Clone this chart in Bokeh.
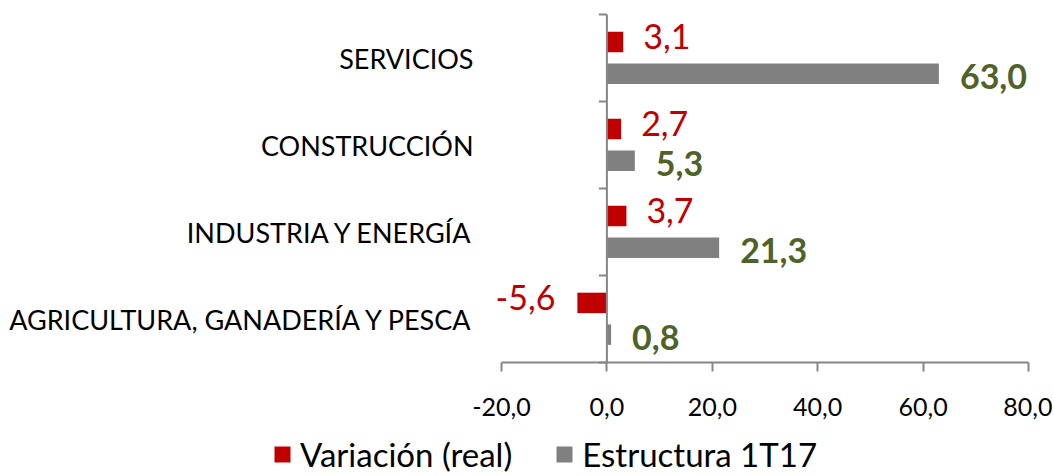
from bokeh.plotting import figure
from bokeh.models import (Range1d, FixedTicker, Legend, LegendItem,
                          ColumnDataSource)
from bokeh.core.properties import value
from bokeh.embed import file_html
from bokeh.resources import INLINE

# ---- data (bottom to top) ----
categories = ["AGRICULTURA, GANADERÍA Y PESCA", "INDUSTRIA Y ENERGÍA",
              "CONSTRUCCIÓN", "SERVICIOS"]
variacion = [-5.6, 3.7, 2.7, 3.1]
estructura = [0.8, 21.3, 5.3, 63.0]
x_ticks = [-20, 0, 20, 40, 60, 80]
series_names = ["Variación (real)", "Estructura 1T17"]

RED = "#C00000"
GRAY = "#808080"
GREEN = "#4F6228"
AXIS = "#868686"
FONT = "Lato"

n = len(categories)
centers = [i + 0.5 for i in range(n)]
boundaries = list(range(n + 1))
x_lo, x_hi = x_ticks[0], x_ticks[-1]

# ---- layout (pixels) ----
W, H = 1052, 474
PLOT_L, PLOT_R, PLOT_T, PLOT_B = 501, 1028, 14, 362   # data area in px
sx = (PLOT_R - PLOT_L) / (x_hi - x_lo)
sy = (PLOT_B - PLOT_T) / n
x_range = Range1d(x_lo - PLOT_L / sx, x_hi + (W - PLOT_R) / sx)
y_range = Range1d(-(H - PLOT_B) / sy, n + PLOT_T / sy)

p = figure(width=W, height=H, output_backend="svg", toolbar_location=None,
           x_range=x_range, y_range=y_range,
           min_border_left=0, min_border_right=0,
           min_border_top=0, min_border_bottom=0)
p.outline_line_color = None
p.xgrid.visible = False
p.ygrid.visible = False
p.background_fill_color = "white"
p.border_fill_color = "white"

# bars
red_y = [c + 0.185 for c in centers]
gray_y = [c - 0.18 for c in centers]
r_red = p.hbar(y=red_y, left=0, right=variacion, height=0.235,
               fill_color=RED, line_color=None)
r_gray = p.hbar(y=gray_y, left=0, right=estructura, height=0.235,
                fill_color=GRAY, line_color=None)

def fmt(v):
    return f"{v:.1f}".replace(".", ",")

# red labels
pos = [(v, y) for v, y in zip(variacion, red_y) if v >= 0]
neg = [(v, y) for v, y in zip(variacion, red_y) if v < 0]
src_pos = ColumnDataSource(dict(x=[a for a, _ in pos], y=[b for _, b in pos],
                                t=[fmt(a) for a, _ in pos]))
src_neg = ColumnDataSource(dict(x=[a for a, _ in neg], y=[b for _, b in neg],
                                t=[fmt(a) for a, _ in neg]))
p.text(x="x", y="y", text="t", source=src_pos, x_offset=20, y_offset=-5,
       text_align="left", text_baseline="middle", text_color=RED,
       text_font=value(FONT), text_font_size="34px")
p.text(x="x", y="y", text="t", source=src_neg, x_offset=-22, y_offset=-5,
       text_align="right", text_baseline="middle", text_color=RED,
       text_font=value(FONT), text_font_size="34px")
# green labels
src_g = ColumnDataSource(dict(x=estructura, y=gray_y,
                              t=[fmt(v) for v in estructura]))
p.text(x="x", y="y", text="t", source=src_g, x_offset=21, y_offset=3,
       text_align="left", text_baseline="middle", text_color=GREEN,
       text_font=value(FONT), text_font_size="34px", text_font_style="bold")

# vertical axis line at x=0 with ticks at category boundaries
tick_len = 8 / sx
p.segment(x0=[0], x1=[0], y0=[boundaries[0]], y1=[boundaries[-1]],
          line_color=AXIS, line_width=2)
p.segment(x0=[-tick_len] * len(boundaries), x1=[0] * len(boundaries),
          y0=boundaries, y1=boundaries, line_color=AXIS, line_width=2)

# left axis: category labels only, fixed at the left edge of the data area
ya = p.yaxis[0]
ya.fixed_location = x_lo
ya.ticker = FixedTicker(ticks=centers)
ya.major_label_overrides = {c: lab for c, lab in zip(centers, categories)}
ya.axis_line_color = None
ya.major_tick_line_color = None
ya.minor_tick_line_color = None
ya.major_tick_out = 0
ya.major_tick_in = 0
ya.major_label_standoff = 28
ya.major_label_text_font = FONT
ya.major_label_text_font_size = "27px"
ya.major_label_text_color = "black"

# x axis at y=0, limited to the tick range
xa = p.xaxis[0]
xa.fixed_location = 0
xa.bounds = (x_lo, x_hi)
xa.ticker = FixedTicker(ticks=x_ticks)
xa.major_label_overrides = {t: fmt(t) for t in x_ticks}
xa.axis_line_color = AXIS
xa.axis_line_width = 2
xa.major_tick_line_color = AXIS
xa.major_tick_line_width = 2
xa.major_tick_out = 9
xa.major_tick_in = 0
xa.minor_tick_line_color = None
xa.major_label_standoff = 26
xa.major_label_text_font = FONT
xa.major_label_text_font_size = "25px"
xa.major_label_text_color = "black"

# legend under the axis
legend = Legend(items=[LegendItem(label=series_names[0], renderers=[r_red]),
                       LegendItem(label=series_names[1], renderers=[r_gray])],
                orientation="horizontal", location=(272, 0),
                glyph_width=20, glyph_height=20, label_standoff=8,
                spacing=42, padding=0, margin=0,
                border_line_color=None, background_fill_alpha=0,
                label_text_font=FONT, label_text_font_size="33px",
                label_text_color="black")
p.add_layout(legend, "center")

open("out.html", "w").write(file_html(p, INLINE))
